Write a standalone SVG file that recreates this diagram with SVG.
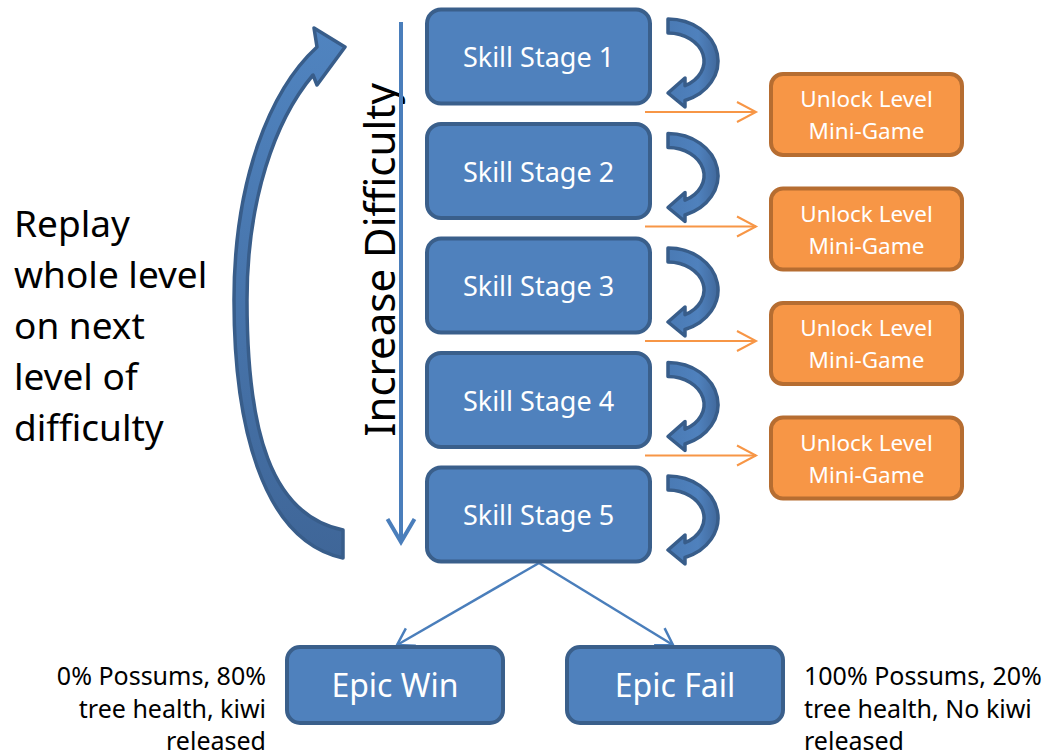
<svg xmlns="http://www.w3.org/2000/svg" xmlns:xlink="http://www.w3.org/1999/xlink" width="1045" height="755" viewBox="0 0 1045 755">
  <style>
    .stage rect { fill: #4F81BD; stroke: #3A5F8B; stroke-width: 4; }
    .stage text { fill: #ffffff; font-family: "Noto Sans", "Open Sans", sans-serif; font-size: 27px; text-anchor: middle; }
    .unlock rect { fill: #F79646; stroke: #B66D31; stroke-width: 4; }
    .unlock text { fill: #ffffff; font-family: "Noto Sans", "Open Sans", sans-serif; font-size: 22.5px; text-anchor: middle; }
    .epic rect { fill: #4F81BD; stroke: #3A5F8B; stroke-width: 4; }
    .epic text { fill: #ffffff; font-family: "Noto Sans", "Open Sans", sans-serif; font-size: 32px; text-anchor: middle; }
    .note { fill: #000000; font-family: "Noto Sans", "Open Sans", sans-serif; }
    .loop { fill: url(#loopFill); stroke: #385D8A; stroke-width: 3.5; stroke-linejoin: round; }
    .orange { stroke: #F79646; stroke-width: 2; fill: none; marker-end: url(#chevOrange); }
    .split { stroke: #4A7EBB; stroke-width: 2.5; fill: none; marker-end: url(#chevBlue); }
  </style>
  <defs>
    <linearGradient id="bigFill" x1="0" y1="0" x2="0" y2="1">
      <stop offset="0" stop-color="#5084C0"/>
      <stop offset="1" stop-color="#3F6698"/>
    </linearGradient>
    <linearGradient id="loopFill" x1="0" y1="0" x2="1" y2="0">
      <stop offset="0" stop-color="#4A7AB4"/>
      <stop offset="0.6" stop-color="#4F81BD"/>
      <stop offset="1" stop-color="#41699C"/>
    </linearGradient>
    <marker id="chevOrange" markerUnits="userSpaceOnUse" markerWidth="40" markerHeight="40" refX="0" refY="0" orient="auto" viewBox="-20 -20 40 40" overflow="visible">
      <path d="M-19,-10 L0,0 L-19,10" fill="none" stroke="#F79646" stroke-width="2"/>
    </marker>
    <marker id="chevBlue" markerUnits="userSpaceOnUse" markerWidth="40" markerHeight="40" refX="0" refY="0" orient="auto" viewBox="-20 -20 40 40" overflow="visible">
      <path d="M-16,-10 L0,0 L-16,10" fill="none" stroke="#4A7EBB" stroke-width="2.5"/>
    </marker>
    <marker id="chevBig" markerUnits="userSpaceOnUse" markerWidth="60" markerHeight="60" refX="0" refY="0" orient="auto" viewBox="-30 -30 60 60" overflow="visible">
      <path d="M-23,-13.5 L0,0 L-23,13.5" fill="none" stroke="#4A7EBB" stroke-width="4"/>
    </marker>
    <!-- curved "advance to next stage" arrow, tail at origin row -->
    <path id="loopArrow" class="loop" d="M668,0 A50,42 0 0 1 685,81.5 L685,88 L668,74 L685,59 L685,66.7 A36,28 0 0 0 668,14 Z"/>
  </defs>

  <!-- replay arrow sweeping from the last stage back up to the first -->
  <g id="replay-arrow">
    <path d="M343,558 C260,540 234,420 234,300 C234,180 270,90 317,47 L314,28 L345,47 L317,85 L313,75 C275,120 247,200 247,300 C247,430 270,515 343,530 Z" fill="url(#bigFill)" stroke="#385D8A" stroke-width="3.5" stroke-linejoin="round"/>
  </g>

  <g id="replay-label">
    <text class="note" font-size="37" x="14" y="237">Replay</text>
    <text class="note" font-size="37" x="14" y="288">whole level</text>
    <text class="note" font-size="37" x="14" y="339">on next</text>
    <text class="note" font-size="37" x="14" y="390">level of</text>
    <text class="note" font-size="37" x="14" y="441">difficulty</text>
  </g>

  <g id="difficulty-label">
    <text class="note" font-size="42" text-anchor="middle" transform="translate(395,260) rotate(-90)">Increase Difficulty</text>
  </g>

  <g id="connectors">
    <line x1="401" y1="22" x2="401" y2="542" stroke="#4A7EBB" stroke-width="4" marker-end="url(#chevBig)"/>
    <line class="orange" x1="645" y1="112" x2="756" y2="112"/>
    <line class="orange" x1="645" y1="226.5" x2="756" y2="226.5"/>
    <line class="orange" x1="645" y1="341" x2="756" y2="341"/>
    <line class="orange" x1="645" y1="455.5" x2="756" y2="455.5"/>
    <line class="split" x1="539" y1="563" x2="397" y2="645"/>
    <line class="split" x1="539" y1="563" x2="673" y2="645"/>
    <use xlink:href="#loopArrow" transform="translate(0,19)"/>
    <use xlink:href="#loopArrow" transform="translate(0,133.5)"/>
    <use xlink:href="#loopArrow" transform="translate(0,248)"/>
    <use xlink:href="#loopArrow" transform="translate(0,362.5)"/>
    <use xlink:href="#loopArrow" transform="translate(0,476)"/>
  </g>

  <g id="stage1" class="stage">
    <rect x="427" y="9.5" width="223" height="94" rx="14"/>
    <text x="538.5" y="67">Skill Stage 1</text>
  </g>
  <g id="stage2" class="stage">
    <rect x="427" y="124" width="223" height="94" rx="14"/>
    <text x="538.5" y="181.5">Skill Stage 2</text>
  </g>
  <g id="stage3" class="stage">
    <rect x="427" y="238.5" width="223" height="94" rx="14"/>
    <text x="538.5" y="296">Skill Stage 3</text>
  </g>
  <g id="stage4" class="stage">
    <rect x="427" y="353" width="223" height="94" rx="14"/>
    <text x="538.5" y="410.5">Skill Stage 4</text>
  </g>
  <g id="stage5" class="stage">
    <rect x="427" y="467.5" width="223" height="94" rx="14"/>
    <text x="538.5" y="525">Skill Stage 5</text>
  </g>

  <g id="unlock1" class="unlock">
    <rect x="771" y="74" width="191" height="81" rx="12"/>
    <text x="866.5" y="107">Unlock Level</text>
    <text x="866.5" y="139">Mini-Game</text>
  </g>
  <g id="unlock2" class="unlock">
    <rect x="771" y="188.5" width="191" height="81" rx="12"/>
    <text x="866.5" y="221.5">Unlock Level</text>
    <text x="866.5" y="253.5">Mini-Game</text>
  </g>
  <g id="unlock3" class="unlock">
    <rect x="771" y="303" width="191" height="81" rx="12"/>
    <text x="866.5" y="336">Unlock Level</text>
    <text x="866.5" y="368">Mini-Game</text>
  </g>
  <g id="unlock4" class="unlock">
    <rect x="771" y="417.5" width="191" height="81" rx="12"/>
    <text x="866.5" y="450.5">Unlock Level</text>
    <text x="866.5" y="482.5">Mini-Game</text>
  </g>

  <g id="epic-win" class="epic">
    <rect x="287" y="647" width="216" height="76" rx="13"/>
    <text x="395" y="697">Epic Win</text>
  </g>
  <g id="epic-fail" class="epic">
    <rect x="567" y="647" width="216" height="76" rx="13"/>
    <text x="675" y="697">Epic Fail</text>
  </g>

  <g id="win-note">
    <text class="note" font-size="25" text-anchor="end" x="266" y="685">0% Possums, 80%</text>
    <text class="note" font-size="25" text-anchor="end" x="266" y="718">tree health, kiwi</text>
    <text class="note" font-size="25" text-anchor="end" x="266" y="750">released</text>
  </g>
  <g id="fail-note">
    <text class="note" font-size="25" x="804" y="685">100% Possums, 20%</text>
    <text class="note" font-size="25" x="804" y="718">tree health, No kiwi</text>
    <text class="note" font-size="25" x="804" y="750">released</text>
  </g>
</svg>
